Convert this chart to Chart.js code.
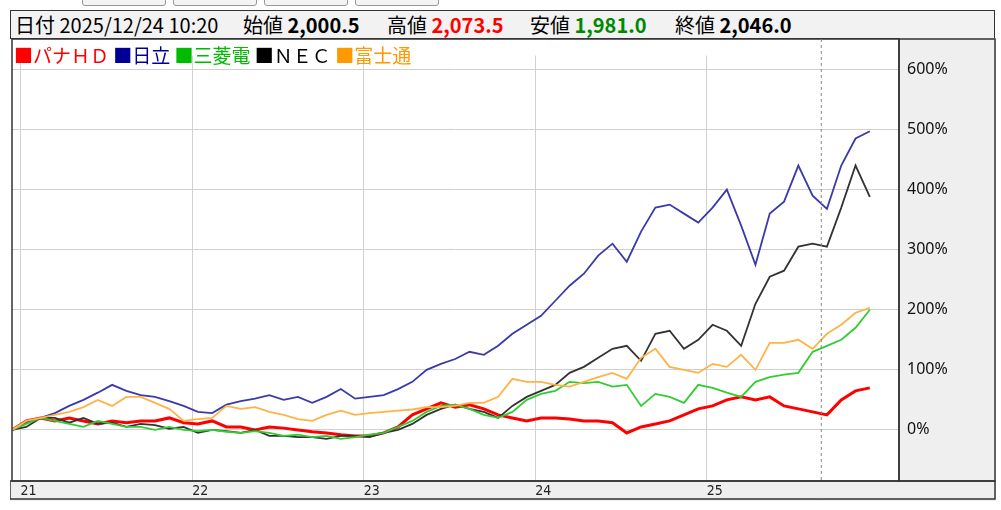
<!DOCTYPE html>
<html><head><meta charset="utf-8">
<script src="https://cdn.jsdelivr.net/npm/chart.js@4.4.1/dist/chart.umd.min.js"></script>
<style>
body{margin:0;background:#fff;font-family:"Noto Sans CJK JP","Noto Sans",sans-serif;}
#hdr{position:absolute;left:10px;top:10px;width:983px;height:27px;border:1px solid #333;background:#f2f2f2;font-size:20px;line-height:27px;white-space:nowrap;}
#hdr span{position:absolute;top:0}
#hdr b{font-weight:bold}
#wrap{position:absolute;left:10px;top:38px;width:986px;height:463px;}
#leg{position:absolute;left:14px;top:43px;font-size:19px;line-height:24px;white-space:nowrap;}
.btn{position:absolute;top:-4px;height:8px;border:1px solid #999;border-radius:3px;background:#f4f4f4}
</style></head><body>
<div class="btn" style="left:82px;width:82px"></div>
<div class="btn" style="left:173px;width:82px"></div>
<div class="btn" style="left:264px;width:82px"></div>
<div class="btn" style="left:355px;width:82px"></div>
<div id="hdr"><span style="left:4px">日付 2025/12/24 10:20</span><span style="left:232px">始値 <b>2,000.5</b></span><span style="left:376px">高値 <b style="color:#f00">2,073.5</b></span><span style="left:519px">安値 <b style="color:#080">1,981.0</b></span><span style="left:664px">終値 <b>2,046.0</b></span></div>
<div id="wrap"><canvas id="c"></canvas></div>
<div id="leg"><span style="color:#f00">■パナＨＤ</span> <span style="color:#009">■日立</span> <span style="color:#0b0">■三菱電</span> <span style="color:#000">■ＮＥＣ</span> <span style="color:#f90">■富士通</span></div>
<script>
const startYear = 2020.95;
const months = Array.from({length:61},(_, i)=>startYear + i/12);
const yearTicks = [2021,2022,2023,2024,2025];
const yearLabels = ['21','22','23','24','25'];
const pctTicks = [0,100,200,300,400,500,600];
const markerDate = 2025.667;

const hitachi = [0,12,20,28,40,50,62,75,65,58,55,48,40,30,28,42,48,52,58,50,55,45,55,68,52,55,58,68,80,100,110,118,130,125,140,160,175,190,215,240,260,290,310,280,330,370,375,360,345,370,400,340,275,360,380,440,390,368,440,485,497];
const fujitsu = [0,15,20,25,30,38,50,40,55,55,45,35,15,18,20,40,35,38,30,25,18,15,25,32,25,28,30,32,34,38,38,40,45,45,55,85,80,80,75,72,80,88,95,85,120,135,105,100,95,110,105,125,100,145,145,150,135,160,175,195,203];
const melco = [0,10,20,15,10,5,15,10,5,5,0,5,0,-2,0,-3,-5,-2,-5,-10,-8,-12,-10,-15,-12,-8,-5,5,15,30,40,42,35,25,20,30,50,60,65,80,78,80,72,75,40,60,55,45,75,70,62,55,80,88,92,95,130,140,150,170,200];
const nec = [0,5,20,20,12,20,10,12,5,10,8,2,5,-5,0,-2,-5,0,-10,-10,-12,-12,-15,-10,-10,-12,-5,0,10,25,35,42,35,30,20,40,55,65,75,95,105,120,135,140,115,160,165,135,150,175,165,140,210,255,265,305,310,305,370,440,388];
const pana = [0,15,20,15,20,15,10,15,12,15,15,20,12,10,15,5,5,0,5,3,0,-3,-5,-8,-10,-10,-5,5,25,35,45,38,42,35,25,20,15,20,20,18,15,15,12,-5,5,10,15,25,35,40,50,55,50,55,40,35,30,25,50,65,70];

const pts = a => a.map((v,i)=>({x:months[i],y:v}));
const bg = {id:'bg',beforeDraw(ch){const c=ch.ctx,a=ch.chartArea;c.save();c.fillStyle='#efefef';
 c.fillRect(a.right,0,ch.width-a.right,a.bottom);c.fillRect(0,a.bottom,ch.width,ch.height-a.bottom);c.restore();},
 afterDraw(ch){const c=ch.ctx,a=ch.chartArea;c.save();c.strokeStyle='#333';c.lineWidth=1.5;
 c.strokeRect(a.left,1,a.right-a.left,a.bottom-1);
 c.strokeRect(a.right,1,ch.width-a.right-1,a.bottom-1);
 c.strokeRect(0,a.bottom,ch.width-1,ch.height-a.bottom-2);
 const x=ch.scales.x.getPixelForValue(markerDate);c.setLineDash([3,3]);c.strokeStyle='#888';c.lineWidth=1;
 c.beginPath();c.moveTo(x,1);c.lineTo(x,a.bottom);c.stroke();
 c.beginPath();c.moveTo(x,a.bottom+20);c.lineTo(x,ch.height);c.stroke();c.restore();}};
const ds=(d,col,w)=>({data:pts(d),borderColor:col,borderWidth:w,pointRadius:0,tension:0,fill:false});
new Chart(document.getElementById('c'),{type:'line',
 data:{datasets:[ds(fujitsu,'#ffb347',1.8),ds(melco,'#33cc33',1.8),ds(nec,'#333333',1.8),ds(hitachi,'#3a3aaa',1.8),ds(pana,'#ff0000',3)]},
 options:{responsive:true,maintainAspectRatio:false,animation:false,
  layout:{padding:{left:2,top:-13,right:0,bottom:0}},
  plugins:{legend:{display:false},tooltip:{enabled:false}},
  scales:{
   x:{type:'linear',min:2020.95,max:2026.12,
    afterBuildTicks(s){s.ticks=yearTicks.map(v=>({value:v}));},
    afterFit(s){s.height=20;},
    grid:{color:'#d0d0d0',drawTicks:false},border:{display:false},
    ticks:{align:'start',padding:2,color:'#222',font:{size:14,family:'DejaVu Sans Condensed'},
     callback:(v)=>yearLabels[yearTicks.indexOf(v)]}},
   y:{position:'right',min:-85,max:623,
    afterBuildTicks(s){s.ticks=pctTicks.map(v=>({value:v}));},
    afterFit(s){s.width=97;},
    grid:{color:'#d0d0d0',drawTicks:false},border:{display:false},
    ticks:{padding:8,color:'#111',font:{size:16,family:'Noto Sans'},callback:v=>v+'%'}}}},
 plugins:[bg]});
</script></body></html>
